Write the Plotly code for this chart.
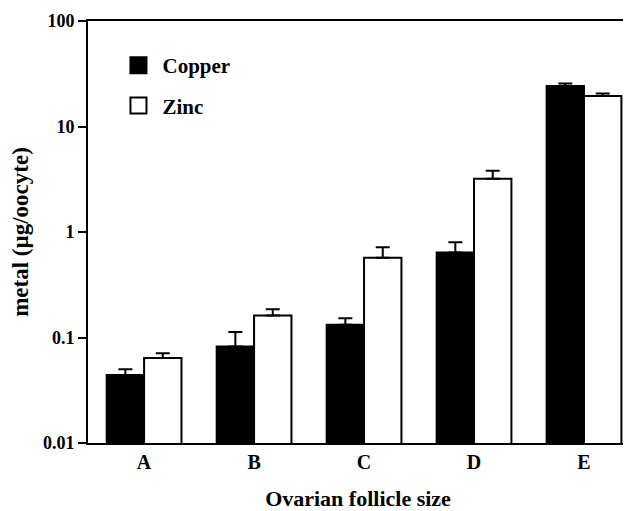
import plotly.graph_objects as go

categories = ["A", "B", "C", "D", "E"]
copper = [0.044, 0.082, 0.132, 0.64, 24.2]
copper_err_top = [0.050, 0.113, 0.152, 0.80, 25.5]
zinc = [0.064, 0.162, 0.57, 3.2, 19.5]
zinc_err_top = [0.071, 0.185, 0.716, 3.81, 20.5]
y_tickvals = [0.01, 0.1, 1, 10, 100]
y_ticktext = ["0.01", "0.1", "1", "10", "100"]

FONT = "Liberation Serif"

fig = go.Figure()
fig.add_trace(go.Bar(
    x=categories, y=copper, name="Copper", showlegend=False,
    marker=dict(color="black", line=dict(color="black", width=2)),
    error_y=dict(type="data", symmetric=False,
                 array=[t - v for t, v in zip(copper_err_top, copper)],
                 arrayminus=[0] * len(copper),
                 color="black", thickness=2, width=7),
))
fig.add_trace(go.Bar(
    x=categories, y=zinc, name="Zinc", showlegend=False,
    marker=dict(color="white", line=dict(color="black", width=2)),
    error_y=dict(type="data", symmetric=False,
                 array=[t - v for t, v in zip(zinc_err_top, zinc)],
                 arrayminus=[0] * len(zinc),
                 color="black", thickness=2, width=7),
))
# legend proxies
fig.add_trace(go.Scatter(x=[None], y=[None], mode="markers", name="Copper",
                         legendgroup="cu",
                         marker=dict(symbol="square", size=16, color="black",
                                     line=dict(color="black", width=2))))
fig.add_trace(go.Scatter(x=[None], y=[None], mode="markers", name="Zinc",
                         legendgroup="zn",
                         marker=dict(symbol="square", size=16, color="white",
                                     line=dict(color="black", width=2))))

# page body has an 8px default margin, so the figure is shifted by (8, 8)
fig.update_layout(
    width=623, height=503,
    margin=dict(l=80, r=3, t=13, b=68),
    paper_bgcolor="white", plot_bgcolor="white",
    font=dict(family=FONT, size=18, color="black", weight="bold"),
    barmode="group", bargap=0.32, bargroupgap=0,
    showlegend=True,
    legend=dict(x=0.049, y=0.943, xanchor="left", yanchor="top",
                bgcolor="rgba(0,0,0,0)", tracegroupgap=10, itemwidth=38,
                font=dict(size=21, family=FONT, weight="bold")),
    xaxis=dict(range=[-0.51, 4.4], showline=True, linecolor="black", linewidth=2,
               mirror=True, ticks="", showgrid=False, zeroline=False, automargin=False,
               tickfont=dict(size=20, family=FONT, weight="bold"),
               title=dict(text="Ovarian follicle size", standoff=29,
                          font=dict(size=22, family=FONT, weight="bold"))),
    yaxis=dict(type="log", range=[-2, 2], showline=True, linecolor="black", linewidth=2,
               ticks="outside", ticklen=8, tickwidth=1.5, tickcolor="black", automargin=False,
               tickvals=y_tickvals, ticktext=y_ticktext, showgrid=False, zeroline=False,
               tickfont=dict(size=18, family=FONT, weight="bold"),
               title=dict(text="\u00a0\u00a0\u00a0metal (µg/oocyte)", standoff=10,
                          font=dict(size=23, family=FONT, weight="bold"))),
)

fig.write_html("out.html")
